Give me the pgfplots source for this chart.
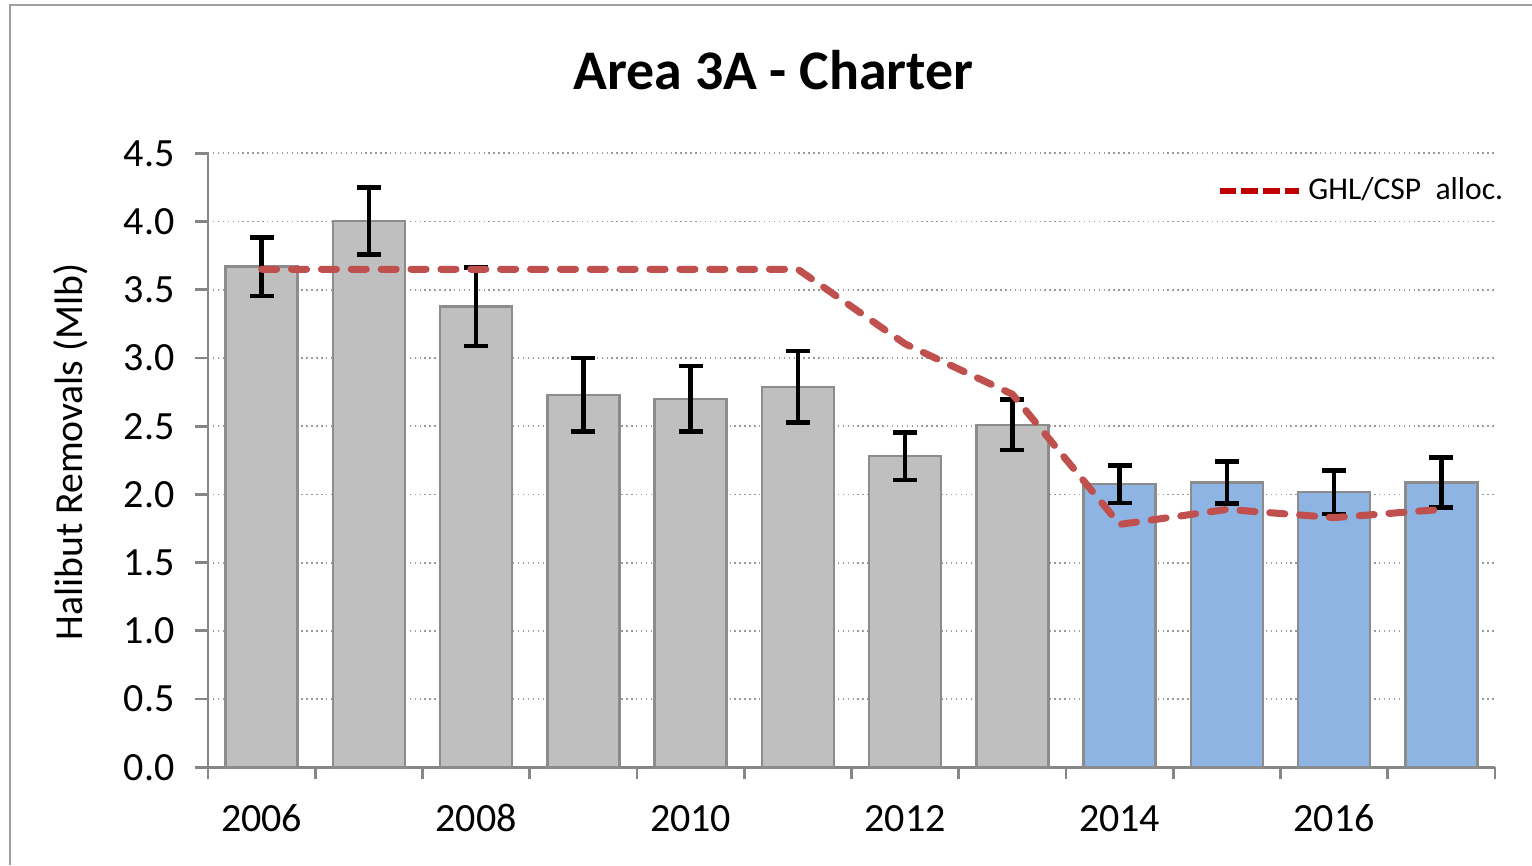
\documentclass[border=0pt]{standalone}
\usepackage{pgfplots}
\pgfplotsset{compat=1.18}
\usepackage{pgfplotstable}
\usepackage{fontspec}
\setmainfont{Carlito}

\definecolor{barGray}{HTML}{BFBFBF}
\definecolor{barBlue}{HTML}{8DB4E2}
\definecolor{barEdge}{HTML}{8C8C8C}
\definecolor{axisGray}{HTML}{868686}
\definecolor{ghlRed}{HTML}{C0504D}
\definecolor{legRed}{HTML}{C00000}
\definecolor{frameGray}{HTML}{A0A0A0}

% year index, removals, +- error
\pgfplotstableread{
x y e
0 3.670 0.215
1 4.005 0.245
2 3.377 0.288
3 2.730 0.270
4 2.700 0.240
5 2.788 0.262
6 2.280 0.175
7 2.510 0.185
}\estimated
\pgfplotstableread{
x y e
8  2.075 0.137
9  2.087 0.154
10 2.016 0.159
11 2.087 0.182
}\projected
\pgfplotstableread{
x y
0  3.650
1  3.650
2  3.650
3  3.650
4  3.650
5  3.650
6  3.103
7  2.734
8  1.780
9  1.890
10 1.830
11 1.890
}\ghl

\begin{document}
\begin{tikzpicture}
\useasboundingbox (0,0) rectangle (15.32,8.65);
\draw[frameGray, line width=0.85pt] (0.10,0) -- (0.10,8.60) -- (15.32,8.60);
\begin{axis}[
    at={(2.08cm,0.977cm)}, anchor=south west,
    scale only axis,
    width=12.87cm, height=6.14cm,
    xmin=-0.5, xmax=11.5,
    ymin=0, ymax=4.5,
    axis lines=left,
    axis line style={-, draw=axisGray, line width=0.8pt},
    tick style={draw=axisGray, line width=0.8pt},
    tick align=outside,
    major tick length=0.13cm,
    minor tick length=0.12cm,
    major x tick style={draw=none},
    xtick={0,2,4,6,8,10},
    xticklabels={2006,2008,2010,2012,2014,2016},
    minor xtick={-0.5,0.5,1.5,2.5,3.5,4.5,5.5,6.5,7.5,8.5,9.5,10.5,11.5},
    ytick={0,0.5,1,1.5,2,2.5,3,3.5,4,4.5},
    /pgf/number format/assume math mode=true,
    ticklabel style={font=\fontsize{11.4}{13}\selectfont},
    xticklabel style={yshift=-0.12cm, text height=1.6ex, text depth=0pt},
    yticklabel style={xshift=-0.08cm, /pgf/number format/.cd, fixed, fixed zerofill, precision=1},
    ymajorgrids,
    major grid style={densely dotted, gray!80, line width=0.5pt},
    ylabel={Halibut Removals (Mlb)},
    ylabel style={font=\fontsize{11.3}{13}\selectfont, at={(axis description cs:-0.107,0.5135)}, anchor=center},
    title={Area 3A - Charter},
    every axis title shift=0pt,
    title style={font=\fontsize{15.9}{18}\selectfont\bfseries, at={(axis description cs:0.4394,1.136)}, anchor=center},
    legend style={at={(axis description cs:0.7832,0.9386)}, anchor=west, draw=none, fill=none,
        font=\fontsize{9.0}{11}\selectfont, inner sep=0pt},
    legend image code/.code={\draw[#1] (0cm,0cm) -- (0.79cm,0cm);},
    clip=false,
]
\addplot[ybar, bar width=0.67, bar shift=0pt, fill=barGray, draw=barEdge, line width=0.7pt, forget plot,
    error bars/.cd, y dir=both, y explicit,
    error bar style={black, line width=1.3pt},
    error mark options={rotate=90, black, line width=1.3pt, mark size=0.12cm}]
    table[x=x, y=y, y error=e] {\estimated};
\addplot[ybar, bar width=0.67, bar shift=0pt, fill=barBlue, draw=barEdge, line width=0.7pt, forget plot,
    error bars/.cd, y dir=both, y explicit,
    error bar style={black, line width=1.3pt},
    error mark options={rotate=90, black, line width=1.3pt, mark size=0.12cm}]
    table[x=x, y=y, y error=e] {\projected};
\addplot[ghlRed, line width=2pt, line cap=round, dash pattern=on 4.3pt off 4.2pt, mark=none, forget plot]
    table[x=x, y=y] {\ghl};
\addlegendimage{legRed, line width=1.6pt, dash pattern=on 4.7pt off 1.5pt}
\addlegendentry{GHL/CSP\ \ alloc.}
\end{axis}
\end{tikzpicture}
\end{document}
